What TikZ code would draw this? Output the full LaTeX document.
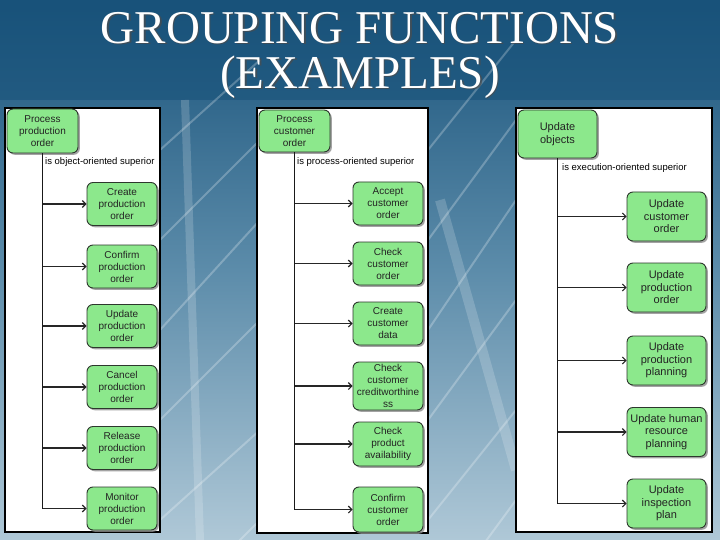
\documentclass[tikz,border=0pt]{standalone}
\usepackage{fontspec}
\setmainfont{Liberation Serif}
\newfontfamily\nodefont{Liberation Sans}
\usetikzlibrary{arrows.meta,shadows}
\definecolor{bgtop}{RGB}{24,82,122}
\definecolor{bgmid}{RGB}{92,140,170}
\definecolor{bgbot}{RGB}{175,200,215}
\definecolor{fngreen}{RGB}{140,232,140}
\definecolor{fnborder}{RGB}{45,55,45}
\definecolor{txt}{RGB}{35,35,35}
\tikzset{
  fn/.style={draw=fnborder, line width=0.9pt, fill=fngreen, rounded corners=6pt,
    drop shadow={shadow xshift=1.8pt, shadow yshift=-1.8pt, fill=black!45, opacity=0.8},
    align=center, text=txt, inner sep=1pt, font=\nodefont\fontsize{10}{12}\selectfont},
  fnbig/.style={fn, font=\nodefont\fontsize{11}{12.5}\selectfont},
  panel/.style={draw=black, line width=1.3pt, fill=white},
  trunk/.style={draw=black!90, line width=1.8pt},
  arr/.style={draw=black!85, line width=1.3pt, -{Straight Barb[length=3.5pt,width=7pt,line width=1.1pt]}},
  rel/.style={anchor=west, inner sep=0pt, text=black, font=\nodefont\fontsize{9.5}{11}\selectfont},
  ttl/.style={text=white, font=\fontsize{47}{50}\selectfont},
}
\begin{document}
\begin{tikzpicture}[x=1pt,y=-1pt]
\useasboundingbox (0,0) rectangle (720,540);
% background
\shade[top color=bgtop, bottom color=bgbot, middle color=bgmid] (0,0) rectangle (720,540);
\fill[bgtop, opacity=0.6] (0,0) rectangle (720,100);
\foreach \a/\b in {150/60, 240/140, 330/220, 420/320, 520/430, 620/520}{
  \draw[white, opacity=0.25, line width=2pt] (160,\a) -- (260,\b);
  \draw[white, opacity=0.25, line width=2pt] (428,\a) -- (516,\b-20);
}
\draw[white, opacity=0.18, line width=10pt] (440,200) -- (516,470);
\draw[white, opacity=0.18, line width=8pt] (185,100) -- (200,540);
% title
\node[ttl, text=black!70, opacity=0.7] at (361.5,29.5) {GROUPING FUNCTIONS};
\node[ttl, text=black!70, opacity=0.7] at (361.5,78.5) {(EXAMPLES)};
\node[ttl] (t1) at (360,28) {GROUPING FUNCTIONS};
\node[ttl] (t2) at (360,77) {(EXAMPLES)};
% panels
\draw[panel] (5,108) rectangle (160,532);
\draw[panel] (257,108) rectangle (428,533);
\draw[panel] (516,108) rectangle (712,532);

% ---------- panel 1 ----------
\node[fn, minimum width=71pt, minimum height=44pt] (p1) at (42.5,131) {Process\\production\\order};
\node[rel] (l1) at (45,162) {is object-oriented superior};
\foreach \n/\y/\t in {a/204/{Create\\production\\order}, b/266.5/{Confirm\\production\\order}, c/326/{Update\\production\\order}, d/387/{Cancel\\production\\order}, e/448/{Release\\production\\order}, f/508.5/{Monitor\\production\\order}}{
  \node[fn, minimum width=70pt, minimum height=43pt] (p1\n) at (122,\y) {\t};
  \draw[arr] (p1.south |- p1\n.west) -- (p1\n.west);
}
\draw[trunk] (p1.south) -- (p1.south |- p1f.west);

% ---------- panel 2 ----------
\node[fn, minimum width=71pt, minimum height=42pt] (p2) at (294.5,131) {Process\\customer\\order};
\node[rel] (l2) at (297,162) {is process-oriented superior};
\foreach \n/\y/\h/\t in {a/203.5/43/{Accept\\customer\\order}, b/263.5/43/{Check\\customer\\order}, c/323.5/43/{Create\\customer\\data}, d/386/48/{Check\\customer\\creditworthine\\ss}, e/444/44/{Check\\product\\availability}, f/509.5/45/{Confirm\\customer\\order}}{
  \node[fn, minimum width=70pt, minimum height=\h pt] (p2\n) at (388,\y) {\t};
  \draw[arr] (p2.south |- p2\n.west) -- (p2\n.west);
}
\draw[trunk] (p2.south) -- (p2.south |- p2f.west);

% ---------- panel 3 ----------
\node[fnbig, minimum width=79pt, minimum height=48pt] (p3) at (557.5,134) {Update\\objects};
\node[rel] (l3) at (562,168) {is execution-oriented superior};
\foreach \n/\y/\t in {a/216.5/{Update\\customer\\order}, b/287.5/{Update\\production\\order}, c/360.5/{Update\\production\\planning}, d/432/{Update human\\resource\\planning}, e/503.5/{Update\\inspection\\plan}}{
  \node[fnbig, minimum width=79pt, minimum height=49pt] (p3\n) at (666.5,\y) {\t};
  \draw[arr] (p3.south |- p3\n.west) -- (p3\n.west);
}
\draw[trunk] (p3.south) -- (p3.south |- p3e.west);
\end{tikzpicture}
\end{document}
